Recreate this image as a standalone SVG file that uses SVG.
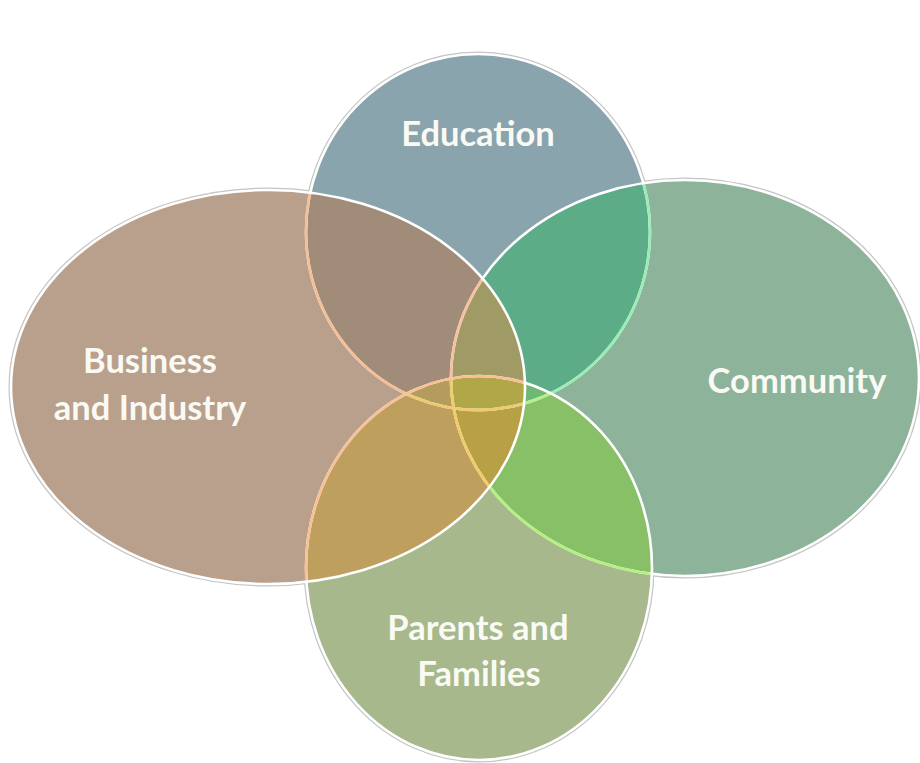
<svg xmlns="http://www.w3.org/2000/svg" width="920" height="763" viewBox="0 0 920 763">
<style>
.lbl{font-family:Lato,"Open Sans","Liberation Sans",sans-serif;font-weight:700;font-size:34.5px;fill:#FAFAF4;text-anchor:middle}
.halo{fill:none;stroke:#C4C4C4;stroke-width:5}
.ln{fill:none;stroke-width:2.6}
</style>
<defs>
<clipPath id="cE"><ellipse cx="478" cy="232" rx="172" ry="178"/></clipPath>
<clipPath id="cC"><ellipse cx="685" cy="378" rx="234" ry="198"/></clipPath>
<clipPath id="cP"><ellipse cx="479" cy="568" rx="173" ry="192"/></clipPath>
<clipPath id="cB"><ellipse cx="268" cy="387" rx="257" ry="197"/></clipPath>
<ellipse id="eE" cx="478" cy="232" rx="172" ry="178"/>
<ellipse id="eC" cx="685" cy="378" rx="234" ry="198"/>
<ellipse id="eP" cx="479" cy="568" rx="173" ry="192"/>
<ellipse id="eB" cx="268" cy="387" rx="257" ry="197"/>
</defs>
<rect width="920" height="763" fill="#FFFFFF"/>
<g id="halos">
<use href="#eE" class="halo"/><use href="#eC" class="halo"/><use href="#eP" class="halo"/><use href="#eB" class="halo"/>
</g>
<g id="education"><use href="#eE" fill="#8AA4AE"/></g>
<g id="community"><use href="#eC" fill="#8DB39A"/></g>
<g id="parents"><use href="#eP" fill="#A6B88C"/></g>
<g id="business"><use href="#eB" fill="#B9A08C"/></g>
<g id="overlaps">
<g clip-path="url(#cB)"><use href="#eE" fill="#A08C78"/></g>
<g clip-path="url(#cC)"><use href="#eE" fill="#5CAC88"/></g>
<g clip-path="url(#cP)"><use href="#eC" fill="#88C068"/></g>
<g clip-path="url(#cP)"><use href="#eB" fill="#BE9F5E"/></g>
<g clip-path="url(#cC)"><use href="#eB" fill="#A8A070"/></g>
<g clip-path="url(#cC)"><g clip-path="url(#cB)"><use href="#eE" fill="#A09B64"/></g></g>
<g clip-path="url(#cP)"><g clip-path="url(#cB)"><use href="#eE" fill="#B39C5E"/></g></g>
<g clip-path="url(#cP)"><g clip-path="url(#cB)"><use href="#eC" fill="#B8A046"/></g></g>
<g clip-path="url(#cP)"><g clip-path="url(#cC)"><use href="#eE" fill="#6DB872"/></g></g>
<g clip-path="url(#cP)"><g clip-path="url(#cC)"><g clip-path="url(#cB)"><use href="#eE" fill="#B0A848"/></g></g></g>
</g>
<g id="outlines">
<use href="#eE" class="ln" stroke="#FFFFFF"/>
<g clip-path="url(#cC)"><use href="#eE" class="ln" stroke="#98EDB4"/></g>
<g clip-path="url(#cP)"><use href="#eE" class="ln" stroke="#B8EE88"/></g>
<g clip-path="url(#cB)"><use href="#eE" class="ln" stroke="#F4BE96"/></g>
<g clip-path="url(#cB)"><g clip-path="url(#cP)"><use href="#eE" class="ln" stroke="#EECB72"/></g></g>
<use href="#eC" class="ln" stroke="#FFFFFF"/>
<g clip-path="url(#cP)"><use href="#eC" class="ln" stroke="#B4F080"/></g>
<g clip-path="url(#cB)"><use href="#eC" class="ln" stroke="#F8C0A0"/></g>
<g clip-path="url(#cB)"><g clip-path="url(#cP)"><use href="#eC" class="ln" stroke="#F0CC6C"/></g></g>
<use href="#eP" class="ln" stroke="#FFFFFF"/>
<g clip-path="url(#cB)"><use href="#eP" class="ln" stroke="#F8C094"/></g>
<use href="#eB" class="ln" stroke="#FFFFFF"/>
</g>
<g id="labels">
<text class="lbl" x="478" y="146">Education</text>
<text class="lbl" x="797" y="393">Community</text>
<text class="lbl" x="150" y="373">Business</text>
<text class="lbl" x="150" y="420">and Industry</text>
<text class="lbl" x="478" y="640">Parents and</text>
<text class="lbl" x="479" y="686">Families</text>
</g>
</svg>
